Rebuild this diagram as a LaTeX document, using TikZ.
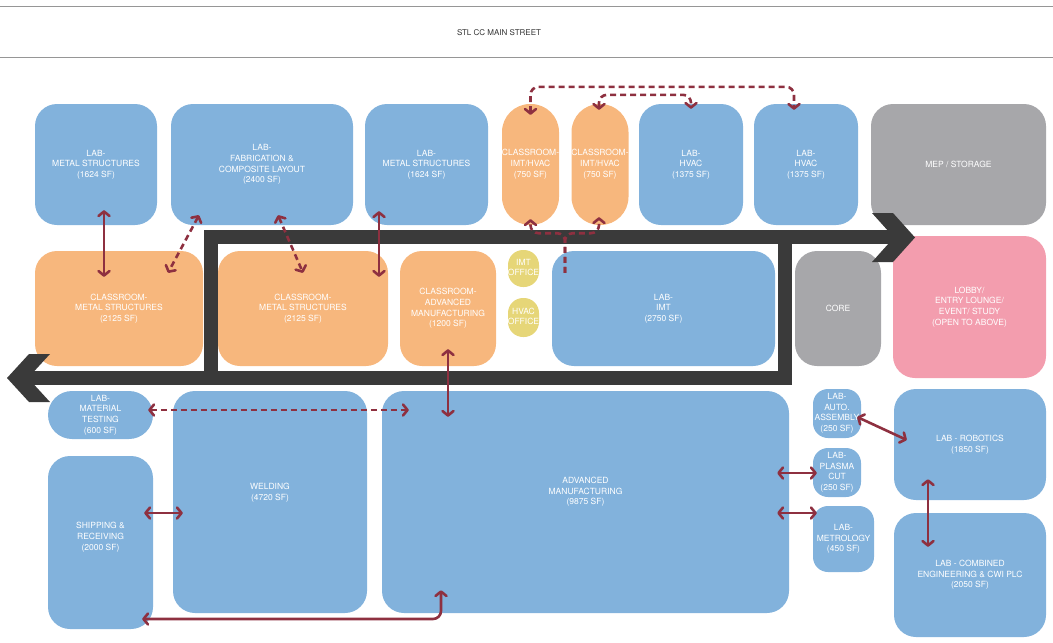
\documentclass[tikz,border=0pt]{standalone}
\usepackage{fontspec}
\setmainfont{TeX Gyre Heros}
\usepackage{xcolor}
\usepackage{tikz}
\usetikzlibrary{arrows.meta,calc}
\definecolor{labblue}{RGB}{130,178,220}
\definecolor{classorange}{RGB}{247,183,125}
\definecolor{servicegray}{RGB}{167,167,170}
\definecolor{lobbypink}{RGB}{243,157,174}
\definecolor{officeyellow}{RGB}{230,214,120}
\definecolor{circdark}{RGB}{58,58,58}
\definecolor{linkred}{RGB}{142,48,64}
\definecolor{rulegray}{RGB}{150,150,150}
\newcommand{\roomfont}{\fontsize{8.5}{10.7}\selectfont}
\newcommand{\titlefont}{\fontsize{8}{9}\selectfont}
\newcommand{\tightlbl}[1]{\makebox[0pt]{\begin{tabular}{@{}c@{}}#1\end{tabular}}}

\begin{document}
\begin{tikzpicture}[
  x=1pt, y=-1pt,
  font=\roomfont,
  room/.style={rectangle, rounded corners=22pt, inner sep=0pt, align=center, text=white},
  labroom/.style={room, fill=labblue},
  classroom/.style={room, fill=classorange},
  service/.style={room, fill=servicegray},
  lobbyroom/.style={room, fill=lobbypink},
  office/.style={room, fill=officeyellow, rounded corners=15pt},
  circ/.style={draw=circdark, line width=14pt, line join=miter},
  circhead/.style={fill=circdark},
  >={Straight Barb[length=4.5pt,width=11pt,round]},
  link/.style={<->, draw=linkred, line width=2.6pt},
  dlink/.style={link, dash pattern=on 6pt off 4pt},
  rule/.style={draw=rulegray, line width=1pt}
]
\useasboundingbox (0,0) rectangle (1053,643);
% street
\draw[rule] (0,6) -- (1053,6);
\draw[rule] (0,57) -- (1053,57);
\node[font=\titlefont, text=black!80] (street) at (499,33) {STL CC MAIN STREET};
% top row
\node[labroom, minimum width=122pt, minimum height=121pt] (labmsA) at (96,164.5) {LAB-\\METAL STRUCTURES\\(1624 SF)};
\node[labroom, minimum width=182pt, minimum height=121pt] (labfab) at (262,164.5) {LAB-\\FABRICATION \&\\COMPOSITE LAYOUT\\(2400 SF)};
\node[labroom, minimum width=123pt, minimum height=121pt] (labmsB) at (426.5,164.5) {LAB-\\METAL STRUCTURES\\(1624 SF)};
\node[classroom, rounded corners=28pt, minimum width=57pt, minimum height=121pt] (cihvA) at (530.5,164.5) {\tightlbl{CLASSROOM-\\IMT/HVAC\\(750 SF)}};
\node[classroom, rounded corners=28pt, minimum width=57pt, minimum height=121pt] (cihvB) at (600,164.5) {\tightlbl{CLASSROOM-\\IMT/HVAC\\(750 SF)}};
\node[labroom, minimum width=104pt, minimum height=121pt] (labhvA) at (691,164.5) {LAB-\\HVAC\\(1375 SF)};
\node[labroom, minimum width=104pt, minimum height=121pt] (labhvB) at (806,164.5) {LAB-\\HVAC\\(1375 SF)};
\node[service, minimum width=175pt, minimum height=121pt] (mep) at (958.5,164.5) {MEP / STORAGE};
% middle row
\node[classroom, minimum width=168pt, minimum height=115pt] (clmsA) at (119,308.5) {CLASSROOM-\\METAL STRUCTURES\\(2125 SF)};
\node[classroom, minimum width=170pt, minimum height=115pt] (clmsB) at (303,308.5) {CLASSROOM-\\METAL STRUCTURES\\(2125 SF)};
\node[classroom, minimum width=96pt, minimum height=115pt] (cladv) at (448,308.5) {CLASSROOM-\\ADVANCED\\MANUFACTURING\\(1200 SF)};
\node[office, minimum width=31pt, minimum height=37pt] (imtoff) at (523.5,268.5) {\tightlbl{IMT\\OFFICE}};
\node[office, minimum width=31pt, minimum height=39pt] (hvoff) at (523.5,317.5) {\tightlbl{HVAC\\OFFICE}};
\node[labroom, minimum width=223pt, minimum height=115pt] (labimt) at (663.5,308.5) {LAB-\\IMT\\(2750 SF)};
\node[service, minimum width=86pt, minimum height=115pt] (core) at (838,308.5) {CORE};
\node[lobbyroom, minimum width=153pt, minimum height=142pt] (lobby) at (969.5,307) {LOBBY/\\ENTRY LOUNGE/\\EVENT/ STUDY\\(OPEN TO ABOVE)};
% bottom row
\node[labroom, rounded corners=24pt, minimum width=105pt, minimum height=48pt] (labmat) at (100.5,415) {LAB-\\MATERIAL\\TESTING\\(600 SF)};
\node[labroom, text depth=12pt, minimum width=105pt, minimum height=173pt] (ship) at (100.5,542.5) {SHIPPING \&\\RECEIVING\\(2000 SF)};
\node[labroom, text depth=20pt, minimum width=194pt, minimum height=222pt] (weld) at (270,502) {WELDING\\(4720 SF)};
\node[labroom, text depth=22pt, minimum width=407pt, minimum height=222pt] (advmfg) at (585.5,502) {ADVANCED\\MANUFACTURING\\(9875 SF)};
\node[labroom, rounded corners=15pt, minimum width=48pt, minimum height=49pt] (labauto) at (837,413.5) {\tightlbl{LAB-\\AUTO.\\ASSEMBLY\\(250 SF)}};
\node[labroom, rounded corners=15pt, minimum width=48pt, minimum height=49pt] (labplasma) at (837,472.5) {\tightlbl{LAB-\\PLASMA\\CUT\\(250 SF)}};
\node[labroom, rounded corners=15pt, minimum width=61pt, minimum height=66pt] (labmet) at (843.5,539) {\tightlbl{LAB-\\METROLOGY\\(450 SF)}};
\node[labroom, minimum width=152pt, minimum height=111pt] (labrob) at (970,444.5) {LAB - ROBOTICS\\(1850 SF)};
\node[labroom, minimum width=152pt, minimum height=124pt] (labcomb) at (970,575) {LAB - COMBINED\\ENGINEERING \& CWI PLC\\(2050 SF)};
% circulation
\draw[circ] (900,237) -- (210.5,237) -- (210.5,377.5);
\draw[circ] (18,377.5) -- (784.5,377.5) -- (784.5,237);
\fill[circhead] (872,213) -- (893,213) -- (915,237.5) -- (893,262) -- (872,262) -- (894,237.5) -- cycle;
\fill[circhead] (50,354) -- (29,354) -- (7,378) -- (29,402) -- (50,402) -- (28,378) -- cycle;
% adjacencies
\draw[link] ($(labmsA.south)+(8,-15)$) -- ($(clmsA.north)+(-15,26)$);
\draw[dlink] ($(labfab.south)+(-63,-10)$) -- ($(clmsA.north)+(49,22)$);
\draw[dlink] ($(labfab.south)+(16,-10)$) -- ($(clmsB.north)+(0,22)$);
\draw[link] ($(labmsB.south)+(-47.5,-14)$) -- ($(clmsB.north)+(76,26)$);
\draw[dlink, rounded corners=8pt] ($(cihvA.north)+(0,11)$) |- ($(labhvB.north)+(-12,-17)$) -- ($(labhvB.north)+(-12,6)$);
\draw[dlink, rounded corners=8pt] ($(cihvB.north)+(-1,6)$) |- ($(labhvA.north)+(0,-9)$) -- ($(labhvA.north)+(0,5)$);
\draw[dlink, ->, rounded corners=8pt] ($(labimt.north)+(-98.5,22)$) |- ($(cihvA.south)+(0,8)$) -- ($(cihvA.south)+(0,-6)$);
\draw[dlink, ->, rounded corners=8pt] ($(labimt.north)+(-98.5,22)$) |- ($(cihvB.south)+(-1,8)$) -- ($(cihvB.south)+(-1,-8)$);
\draw[link] ($(cladv.south)+(0,-17)$) -- ($(advmfg.north)+(-137.5,26)$);
\draw[dlink] ($(labmat.east)+(-5,-5)$) -- ($(advmfg.west)+(27,-92)$);
\draw[link] ($(ship.east)+(-9,-29.5)$) -- ($(weld.west)+(10,11)$);
\draw[link, rounded corners=8pt] ($(ship.east)+(-11,76.5)$) -| ($(advmfg.south)+(-144.5,-23)$);
\draw[link] ($(advmfg.east)+(-12,-29)$) -- ($(labplasma.west)+(4,0.5)$);
\draw[link] ($(advmfg.east)+(-12,11)$) -- ($(labmet.west)+(4,-26)$);
\draw[link] ($(labauto.east)+(-4,3.5)$) -- ($(labrob.west)+(13,-4.5)$);
\draw[link] ($(labrob.south)+(-42,-21)$) -- ($(labcomb.north)+(-42,34)$);
\end{tikzpicture}
\end{document}
